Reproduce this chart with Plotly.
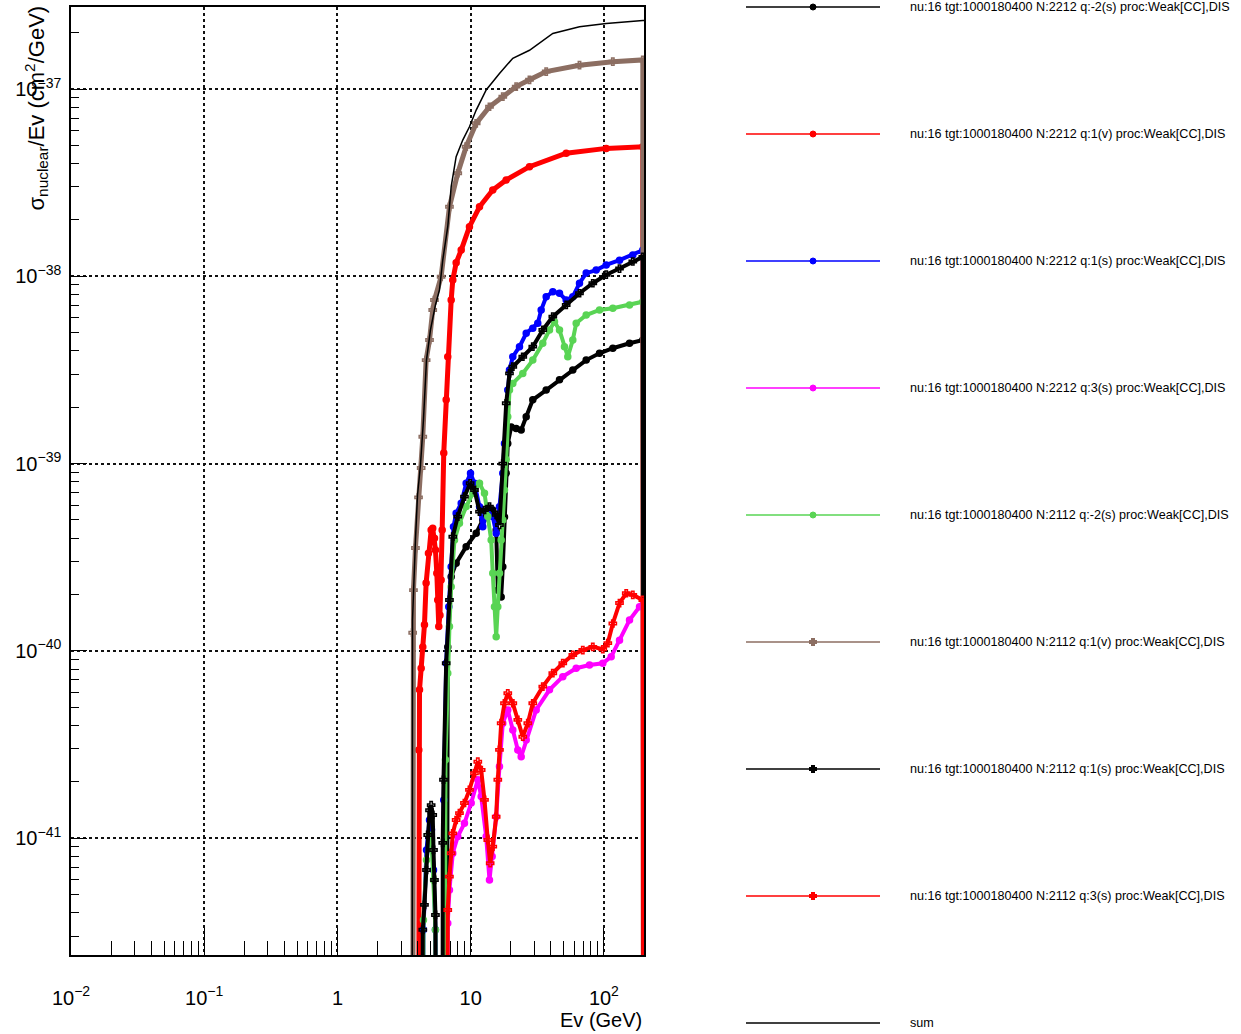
import plotly.graph_objects as go

TINY = 1e-46  # curves drop to zero (below axis) at threshold / end

# ---------------- data (E in GeV, sigma/E in cm^2/GeV) ----------------
sum_E = [3.60, 3.66, 3.85, 3.99, 4.20, 4.42, 4.66, 4.99, 5.44, 5.83, 6.17, 6.73, 7.14, 7.78,
         8.72, 9.79, 11.0, 13.07, 16.45, 20.71, 27.63, 41.35, 65.58, 104.1, 195.9, 200]
sum_S = [TINY, 1.46e-40, 3.91e-40, 6.80e-40, 9.83e-40, 1.71e-39, 3.57e-39, 5.17e-39, 7.03e-39,
         8.45e-39, 1.22e-38, 1.84e-38, 3.01e-38, 4.35e-38, 5.34e-38, 6.29e-38, 7.72e-38,
         9.88e-38, 1.21e-37, 1.46e-37, 1.61e-37, 1.98e-37, 2.15e-37, 2.24e-37, 2.32e-37, 2.32e-37]

n_v_E = [3.62, 3.67, 3.72, 3.85, 4.06, 4.25, 4.37, 4.63, 4.91, 5.19, 5.35, 6.00, 6.93, 8.00,
         9.25, 11.0, 13.84, 17.42, 21.96, 27.63, 36.88, 65.58, 116.7, 195.9, 200]
n_v_S = [TINY, 1.25e-40, 2.11e-40, 3.54e-40, 6.60e-40, 9.47e-40, 1.39e-39, 3.57e-39, 4.57e-39,
         6.61e-39, 7.47e-39, 9.95e-39, 2.35e-38, 3.55e-38, 4.92e-38, 6.56e-38, 8.04e-38,
         9.10e-38, 1.03e-37, 1.12e-37, 1.24e-37, 1.34e-37, 1.40e-37, 1.43e-37, TINY]

p_v_E = [3.95, 4.08, 4.13, 4.25, 4.37, 4.50, 4.63, 4.82, 5.05, 5.19, 5.35, 5.44, 5.57, 5.66,
         5.76, 5.88, 6.00, 6.11, 6.28, 6.55, 6.73, 7.14, 7.34, 7.78, 8.49, 9.79, 11.65, 14.65,
         18.48, 27.63, 52.12, 104.1, 195.9, 200]
p_v_S = [TINY, 2.96e-41, 6.19e-41, 8.08e-41, 1.05e-40, 1.38e-40, 2.30e-40, 3.32e-40, 4.42e-40,
         4.51e-40, 3.99e-40, 3.46e-40, 2.60e-40, 1.87e-40, 1.35e-40, 1.55e-40, 2.39e-40,
         4.42e-40, 1.14e-39, 2.19e-39, 3.72e-39, 7.47e-39, 9.55e-39, 1.18e-38, 1.38e-38,
         1.84e-38, 2.35e-38, 2.89e-38, 3.27e-38, 3.85e-38, 4.54e-38, 4.82e-38, 4.92e-38, TINY]

p_d_E = [4.27, 4.42, 4.66, 4.91, 5.08, 5.26, 5.44, 5.58, 6.14, 6.28, 6.55, 6.85, 7.14, 7.43,
         7.78, 8.49, 9.25, 9.97, 10.68, 11.65, 12.33, 13.44, 14.65, 15.54, 16.45, 17.42, 17.94,
         18.99, 19.56, 20.71, 23.25, 26.11, 29.26, 31.89, 33.82, 36.88, 41.35, 46.42, 52.12,
         58.42, 65.58, 73.64, 87.52, 104.1, 131.0, 164.8, 195.9, 200]
p_d_S = [TINY, 3.24e-42, 8.65e-42, 1.25e-41, 1.11e-41, 6.76e-42, 3.24e-42, TINY, TINY, 1.60e-41,
         8.59e-41, 1.72e-40, 2.81e-40, 4.60e-40, 5.43e-40, 6.14e-40, 7.85e-40, 8.88e-40,
         7.85e-40, 5.89e-40, 4.60e-40, 5.65e-40, 5.21e-40, 4.25e-40, 5.89e-40, 8.88e-40,
         1.28e-39, 2.47e-39, 3.16e-39, 3.72e-39, 4.21e-39, 4.96e-39, 5.28e-39, 5.61e-39,
         6.61e-39, 7.78e-39, 8.28e-39, 8.12e-39, 7.47e-39, 7.78e-39, 9.18e-39, 1.04e-38,
         1.08e-38, 1.15e-38, 1.22e-38, 1.30e-38, 1.38e-38, TINY]

n_d_E = [4.25, 4.37, 4.50, 4.66, 4.76, 4.91, 5.05, 5.19, 5.26, 5.35, 5.44, 5.54, 6.14, 6.17,
         6.25, 6.55, 6.93, 7.34, 8.00, 8.98, 9.91, 10.68, 11.65, 12.70, 13.84, 15.54, 16.45,
         17.42, 18.48, 19.56, 20.71, 24.61, 29.26, 34.77, 41.35, 52.12, 65.58, 82.54, 104.1,
         131.0, 164.8, 195.9, 200]
n_d_S = [TINY, 3.24e-42, 4.40e-42, 6.76e-42, 1.04e-41, 1.41e-41, 1.50e-41, 1.33e-41, 8.65e-42,
         5.98e-42, 3.89e-42, TINY, TINY, 9.43e-42, 2.05e-41, 8.59e-41, 1.87e-40, 4.07e-40,
         5.21e-40, 6.66e-40, 7.85e-40, 7.23e-40, 5.54e-40, 5.65e-40, 5.89e-40, 5.32e-40,
         4.70e-40, 1.00e-39, 2.10e-39, 3.03e-39, 3.29e-39, 3.72e-39, 4.21e-39, 5.17e-39,
         6.09e-39, 7.03e-39, 8.12e-39, 9.18e-39, 1.02e-38, 1.10e-38, 1.20e-38, 1.27e-38, TINY]

p_ubar_E = [6.47, 6.73, 7.14, 7.78, 9.25, 11.0, 12.33, 13.37, 14.65, 15.54, 15.98, 16.94, 17.42,
            17.94, 18.48, 18.99, 20.14, 21.96, 23.94, 26.11, 29.26, 36.88, 46.42, 58.42, 73.64,
            92.69, 116.7, 155.7, 195.9, 200]
p_ubar_S = [TINY, 1.05e-40, 2.49e-40, 2.94e-40, 3.60e-40, 4.25e-40, 5.00e-40, 5.65e-40, 5.65e-40,
            4.42e-40, 2.11e-40, 1.94e-40, 2.81e-40, 5.19e-40, 8.88e-40, 1.28e-39, 1.57e-39,
            1.54e-39, 1.51e-39, 1.78e-39, 2.19e-39, 2.47e-39, 2.80e-39, 3.16e-39, 3.57e-39,
            3.88e-39, 4.13e-39, 4.39e-39, 4.57e-39, TINY]

n_ubar_E = [4.31, 4.42, 4.66, 4.91, 5.08, 5.26, 5.44, 5.58, 6.19, 6.47, 6.73, 6.93, 7.14, 7.56,
            8.24, 9.25, 10.37, 11.65, 12.70, 13.44, 14.25, 14.65, 15.09, 15.54, 15.98, 16.45,
            16.94, 17.42, 17.94, 18.48, 18.99, 19.56, 20.71, 24.61, 29.26, 34.77, 39.05, 42.58,
            46.42, 50.60, 53.58, 58.42, 61.94, 73.64, 92.69, 116.7, 155.7, 195.9, 200]
n_ubar_S = [TINY, 3.66e-42, 7.65e-42, 1.04e-41, 9.78e-42, 5.98e-42, 3.24e-42, TINY, TINY,
            2.62e-41, 7.60e-41, 1.35e-40, 2.20e-40, 3.91e-40, 4.80e-40, 5.89e-40, 6.94e-40,
            7.85e-40, 6.94e-40, 5.21e-40, 3.91e-40, 2.60e-40, 1.72e-40, 1.19e-40, 1.72e-40,
            2.60e-40, 3.91e-40, 5.00e-40, 7.23e-40, 1.05e-39, 1.78e-39, 2.47e-39, 2.68e-39,
            3.03e-39, 3.57e-39, 4.39e-39, 5.17e-39, 5.72e-39, 5.17e-39, 4.21e-39, 3.72e-39,
            4.57e-39, 5.61e-39, 6.21e-39, 6.61e-39, 6.75e-39, 7.03e-39, 7.32e-39, TINY]

p_s_E = [6.47, 6.73, 6.93, 7.34, 8.00, 8.98, 10.09, 11.31, 11.99, 13.07, 13.84, 14.50, 15.54,
         16.45, 17.42, 18.99, 20.71, 22.58, 23.94, 26.11, 31.02, 39.05, 49.14, 61.94, 77.97,
         98.1, 113.4, 131.0, 155.7, 185.1, 195.9, 200]
p_s_S = [TINY, 3.51e-42, 5.29e-42, 8.31e-42, 1.02e-41, 1.20e-41, 1.54e-41, 2.05e-41, 1.67e-41,
         1.02e-41, 5.98e-42, 7.97e-42, 1.30e-41, 2.41e-41, 4.11e-41, 4.84e-41, 3.78e-41,
         2.96e-41, 2.72e-41, 3.34e-41, 4.84e-41, 6.19e-41, 7.28e-41, 8.08e-41, 8.41e-41,
         8.59e-41, 9.31e-41, 1.14e-40, 1.46e-40, 1.72e-40, 1.76e-40, TINY]

n_s_E = [6.47, 6.73, 6.93, 7.14, 7.34, 7.78, 8.24, 8.98, 9.79, 10.68, 11.31, 11.99, 12.70,
         13.44, 14.01, 14.65, 15.54, 15.98, 16.45, 16.94, 17.94, 18.99, 20.71, 22.58, 24.61,
         26.84, 29.26, 34.77, 41.35, 49.14, 58.42, 69.43, 82.54, 98.1, 107.0, 116.7, 131.0,
         147.1, 164.8, 195.9, 200]
n_s_S = [TINY, 4.13e-42, 6.23e-42, 8.31e-42, 1.06e-41, 1.25e-41, 1.36e-41, 1.54e-41, 1.81e-41,
         2.22e-41, 2.56e-41, 2.31e-41, 1.60e-41, 9.78e-42, 7.35e-42, 9.01e-42, 1.30e-41,
         2.05e-41, 2.96e-41, 4.11e-41, 5.25e-41, 5.94e-41, 5.25e-41, 4.28e-41, 3.48e-41,
         4.11e-41, 5.25e-41, 6.44e-41, 7.60e-41, 8.59e-41, 9.51e-41, 1.01e-40, 1.05e-40,
         1.02e-40, 1.10e-40, 1.40e-40, 1.80e-40, 2.03e-40, 1.99e-40, 1.87e-40, TINY]

names = [
    "nu:16 tgt:1000180400 N:2212 q:-2(s) proc:Weak[CC],DIS",
    "nu:16 tgt:1000180400 N:2212 q:1(v) proc:Weak[CC],DIS",
    "nu:16 tgt:1000180400 N:2212 q:1(s) proc:Weak[CC],DIS",
    "nu:16 tgt:1000180400 N:2212 q:3(s) proc:Weak[CC],DIS",
    "nu:16 tgt:1000180400 N:2112 q:-2(s) proc:Weak[CC],DIS",
    "nu:16 tgt:1000180400 N:2112 q:1(v) proc:Weak[CC],DIS",
    "nu:16 tgt:1000180400 N:2112 q:1(s) proc:Weak[CC],DIS",
    "nu:16 tgt:1000180400 N:2112 q:3(s) proc:Weak[CC],DIS",
    "sum",
]
colors = ["#000000", "#ff0000", "#0000ff", "#ff00ff", "#59d454", "#8c6e62", "#000000", "#ff0000", "#000000"]
symbols = ["circle", "circle", "circle", "circle", "circle", "cross-open", "cross-open", "cross-open", None]
widths = [4, 5, 4, 4, 4, 5, 4, 4, 1.5]
series = [(p_ubar_E, p_ubar_S), (p_v_E, p_v_S), (p_d_E, p_d_S), (p_s_E, p_s_S),
          (n_ubar_E, n_ubar_S), (n_v_E, n_v_S), (n_d_E, n_d_S), (n_s_E, n_s_S), (sum_E, sum_S)]

fig = go.Figure()
for (xe, ys), nm, c, sym, w in zip(series, names, colors, symbols, widths):
    if sym is None:
        fig.add_trace(go.Scatter(x=xe, y=ys, name=nm, mode="lines",
                                 line=dict(color=c, width=w)))
    else:
        fig.add_trace(go.Scatter(x=xe, y=ys, name=nm, mode="lines+markers",
                                 line=dict(color=c, width=w),
                                 marker=dict(color=c, size=6, symbol=sym,
                                             line=dict(color=c, width=1.5))))

# ---------------- layout ----------------
W, H = 1241, 1034
L, R, T, B = 71, 644, 7, 955

xminor = [m * 10 ** k for k in range(-2, 3) for m in range(2, 10) if m * 10 ** k < 200]
yminor = [m * 10.0 ** k for k in range(-42, -36) for m in range(2, 10)]

axis_font = dict(family="Liberation Sans, Arial, sans-serif", size=20, color="black")

fig.update_layout(
    width=W, height=H,
    margin=dict(l=L, r=W - R, t=T, b=H - B, autoexpand=False),
    paper_bgcolor="white", plot_bgcolor="white",
    showlegend=False,
    font=dict(family="Liberation Sans, Arial, sans-serif", color="black"),
    xaxis=dict(type="log", range=[-2, 2.301], showline=True, linecolor="black", linewidth=1.5,
               mirror=True, ticks="inside", ticklen=27, tickwidth=1, tickcolor="black",
               tickvals=[0.01, 0.1, 1, 10, 100],
               ticktext=["10<sup>\u22122</sup>", "10<sup>\u22121</sup>", "1", "10", "10<sup>2</sup>"],
               tickfont=axis_font, ticklabelstandoff=24,
               showgrid=True, gridcolor="#111", griddash="dot", gridwidth=1.8, zeroline=False,
               minor=dict(tickvals=xminor, ticks="inside", ticklen=14, tickcolor="black",
                          tickwidth=1, showgrid=False)),
    yaxis=dict(type="log", range=[-41.624, -36.562], showline=True, linecolor="black", linewidth=1.5,
               mirror=True, ticks="inside", ticklen=16, tickwidth=1, tickcolor="black",
               tickvals=[1e-41, 1e-40, 1e-39, 1e-38, 1e-37],
               ticktext=["10<sup>\u221241</sup>", "10<sup>\u221240</sup>", "10<sup>\u221239</sup>",
                         "10<sup>\u221238</sup>", "10<sup>\u221237</sup>"],
               tickfont=axis_font, ticklabelstandoff=4,
               showgrid=True, gridcolor="#111", griddash="dot", gridwidth=1.8, zeroline=False,
               minor=dict(tickvals=yminor, ticks="inside", ticklen=8, tickcolor="black",
                          tickwidth=1, showgrid=False)),
)

def px_x(px):
    return (px - L) / (R - L)

def px_y(py):
    return (B - py) / (B - T)

# axis titles
fig.add_annotation(text="\u03c3<sub>nuclear</sub>/Ev (cm<sup>2</sup>/GeV)", textangle=-90,
                   xref="paper", yref="paper", x=px_x(36), y=px_y(4), xanchor="center",
                   yanchor="top", showarrow=False,
                   font=dict(family="Liberation Sans, Arial, sans-serif", size=22, color="black"))
fig.add_annotation(text="Ev (GeV)", xref="paper", yref="paper", x=px_x(644), y=px_y(1020),
                   xanchor="right", yanchor="middle", showarrow=False, font=axis_font)

# custom legend (ROOT style)
leg_y0, leg_dy = 7, 127
for i, (nm, c, sym) in enumerate(zip(names, colors, symbols)):
    yy = leg_y0 + i * leg_dy
    fig.add_shape(type="line", xref="paper", yref="paper", x0=px_x(746), x1=px_x(880),
                  y0=px_y(yy), y1=px_y(yy), line=dict(color=c, width=1.5))
    if sym == "circle":
        fig.add_shape(type="circle", xref="paper", yref="paper",
                      x0=px_x(810), x1=px_x(816), y0=px_y(yy - 3), y1=px_y(yy + 3),
                      fillcolor=c, line=dict(color=c, width=1))
    elif sym == "cross-open":
        fig.add_shape(type="line", xref="paper", yref="paper",
                      x0=px_x(809), x1=px_x(817), y0=px_y(yy), y1=px_y(yy),
                      line=dict(color=c, width=4))
        fig.add_shape(type="line", xref="paper", yref="paper",
                      x0=px_x(813), x1=px_x(813), y0=px_y(yy - 4), y1=px_y(yy + 4),
                      line=dict(color=c, width=4))
    fig.add_annotation(text=nm, xref="paper", yref="paper", x=px_x(908), y=px_y(yy),
                       xanchor="left", yanchor="middle", showarrow=False,
                       font=dict(family="Liberation Sans, Arial, sans-serif", size=12.6, color="black"))

fig.write_html("out.html")
